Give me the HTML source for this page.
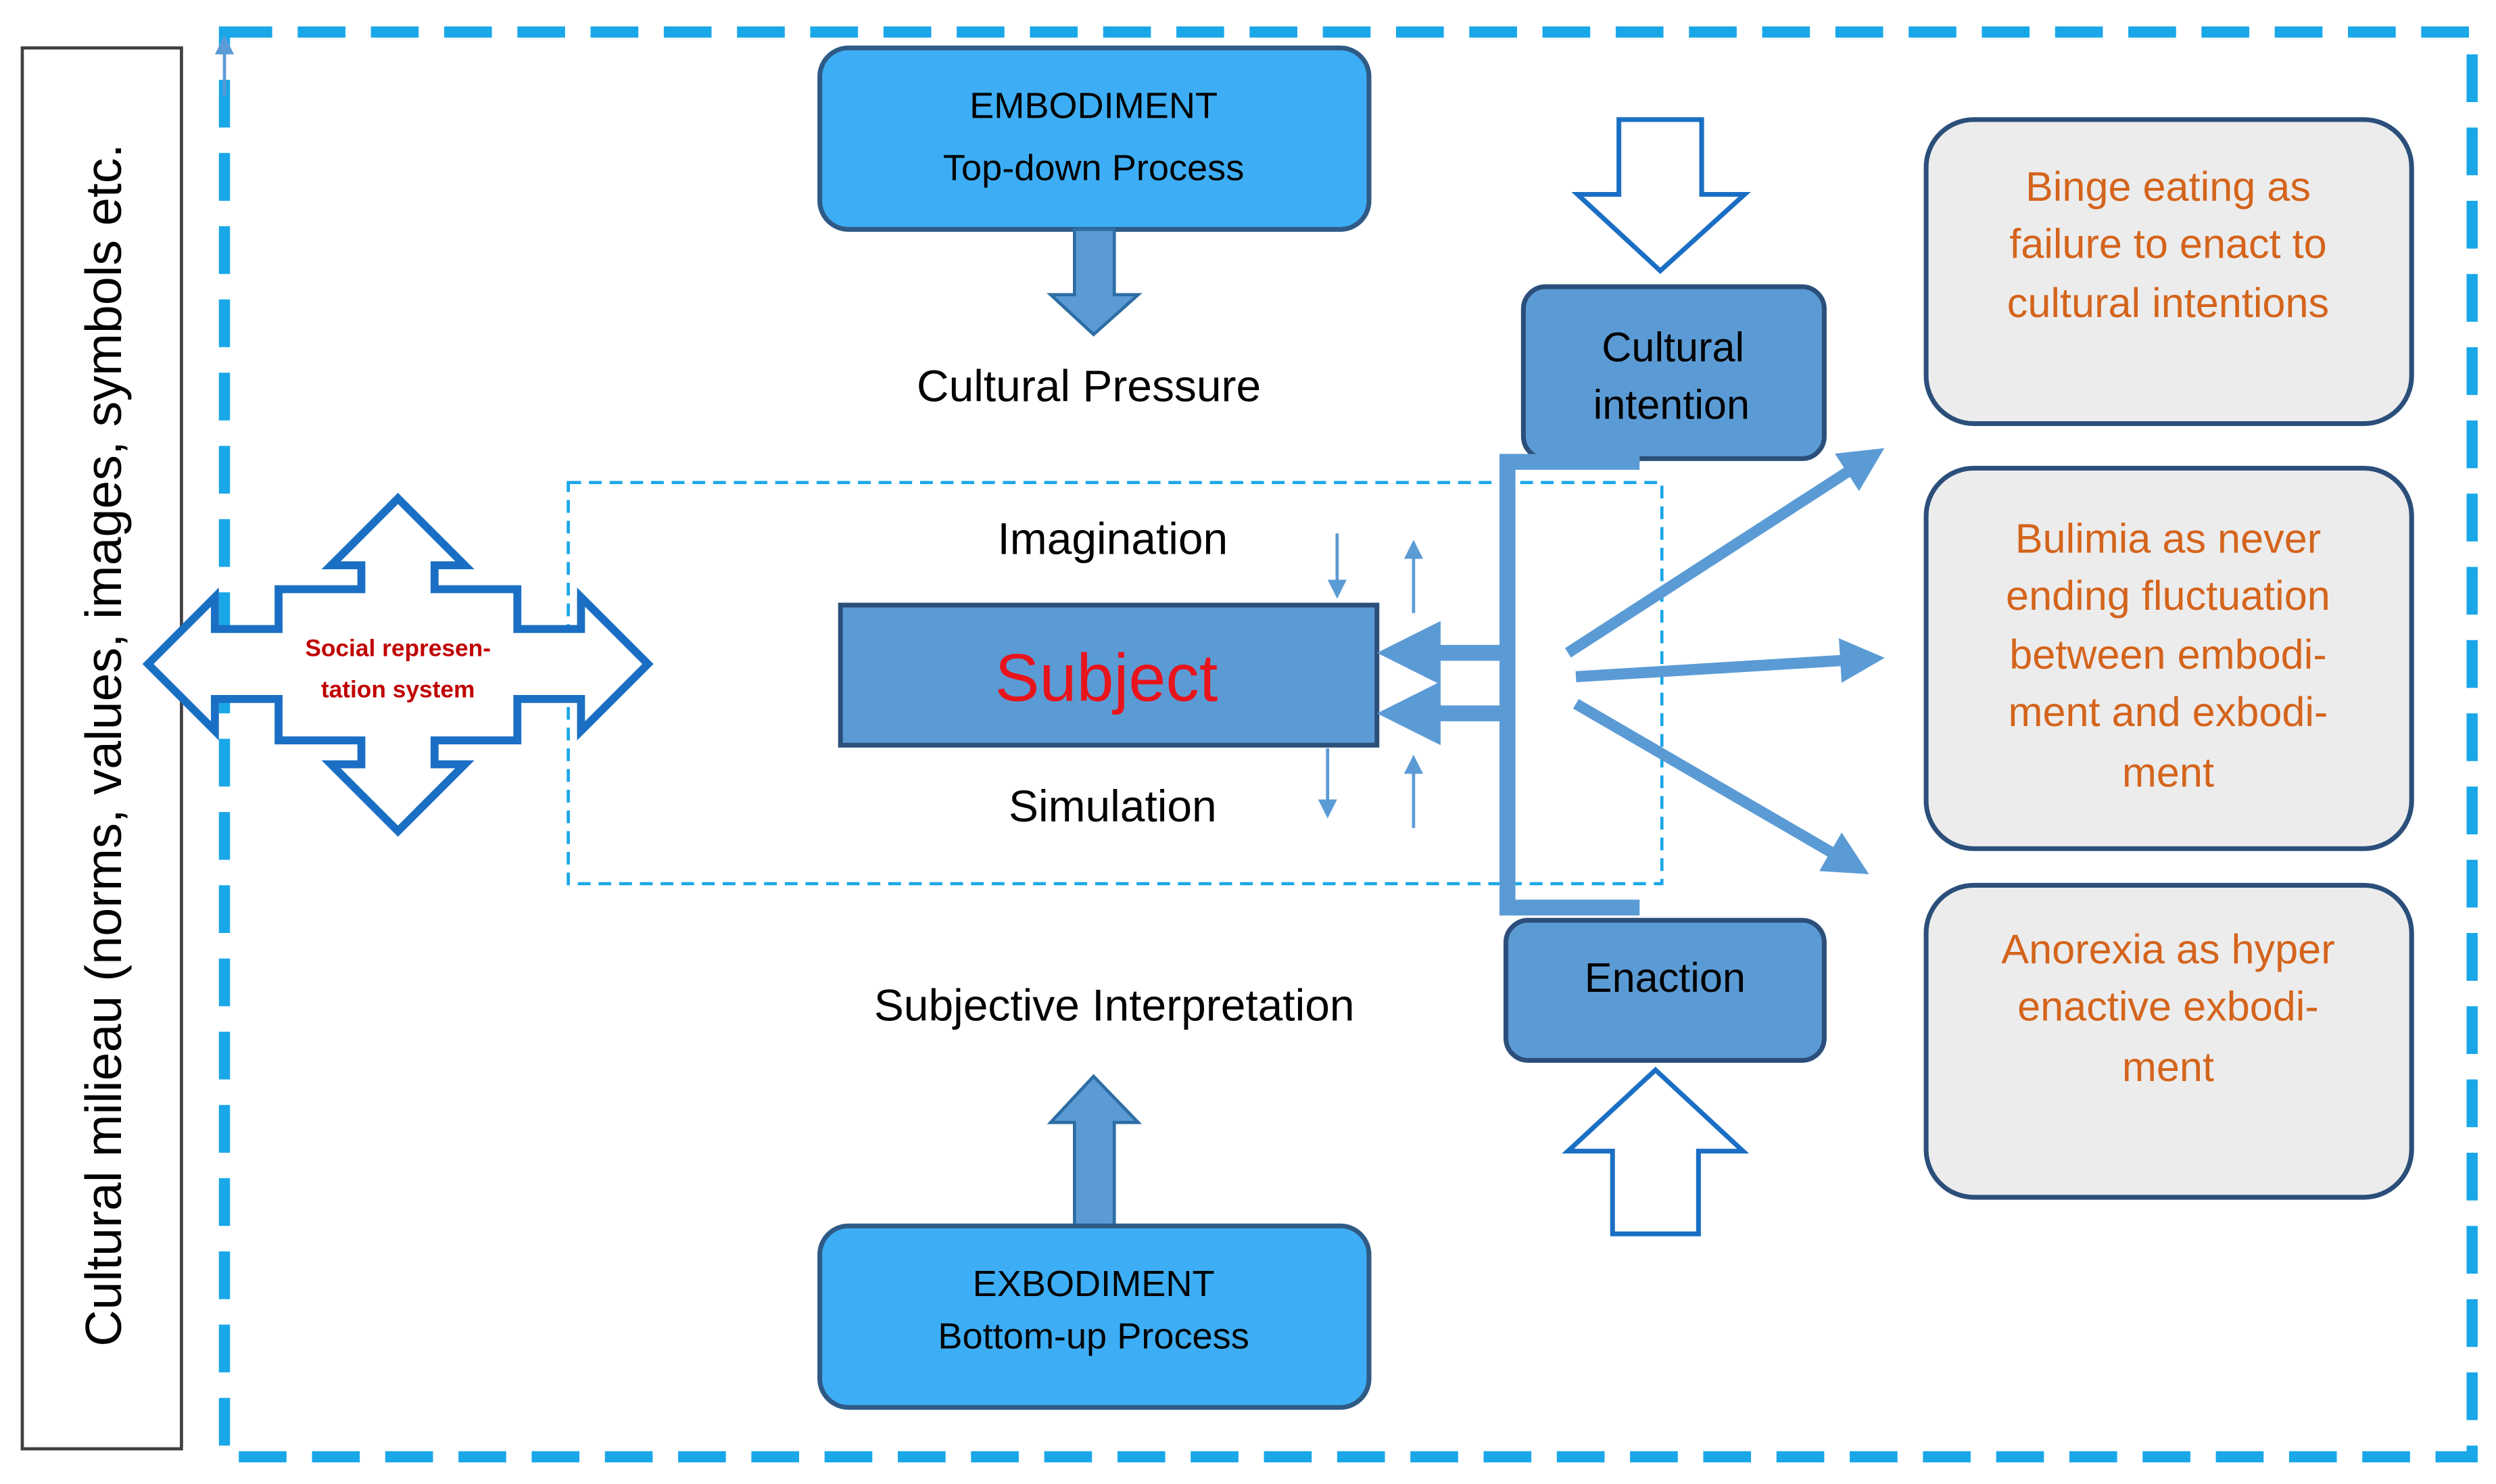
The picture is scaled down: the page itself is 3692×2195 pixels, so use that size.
<!DOCTYPE html>
<html><head><meta charset="utf-8"><style>
html,body{margin:0;padding:0;background:#fff;}
svg{display:block;}
text{font-family:"Liberation Sans",sans-serif;}
</style></head><body>
<svg width="3692" height="2195" viewBox="0 0 1568 932" xmlns="http://www.w3.org/2000/svg">
<defs>
<marker id="ah" markerWidth="4" markerHeight="4" refX="2" refY="2" orient="auto" markerUnits="strokeWidth"><path d="M0,0 L4,2 L0,4 Z" fill="#5b9bd5"/></marker>
<marker id="sa" markerWidth="6" markerHeight="6" refX="3" refY="3" orient="auto" markerUnits="strokeWidth"><path d="M0,0 L6,3 L0,6 Z" fill="#5b9bd5"/></marker>
</defs>
<rect width="1568" height="932" fill="#fff"/>
<rect x="14" y="30" width="100" height="880" fill="#fff" stroke="#404040" stroke-width="2"/>
<text transform="translate(76,468) rotate(-90)" text-anchor="middle" font-size="32" fill="#000">Cultural milieau (norms, values, images, symbols etc.</text>
<rect x="141" y="20" width="1412" height="895" fill="none" stroke="#1aa7e8" stroke-width="7" stroke-dasharray="30,16"/>
<line x1="141" y1="60" x2="141" y2="28" stroke="#5b9bd5" stroke-width="2" marker-end="url(#sa)"/>
<rect x="515" y="30" width="345" height="114" rx="18" fill="#3daef5" stroke="#2f5a86" stroke-width="3"/>
<text x="687" y="74" text-anchor="middle" font-size="23">EMBODIMENT</text>
<text x="687" y="113" text-anchor="middle" font-size="23">Top-down Process</text>
<path d="M675,144 L700,144 L700,185 L715,185 L687,210 L660,185 L675,185 Z" fill="#5b9bd5" stroke="#2e6da4" stroke-width="2"/>
<text x="684" y="252" text-anchor="middle" font-size="28">Cultural Pressure</text>
<rect x="357" y="303" width="687" height="252" fill="none" stroke="#1aa7e8" stroke-width="2" stroke-dasharray="8,5"/>
<text x="699" y="348" text-anchor="middle" font-size="28">Imagination</text>
<text x="699" y="516" text-anchor="middle" font-size="28">Simulation</text>
<rect x="528" y="380" width="337" height="88" fill="#5b9bd5" stroke="#2b4f7a" stroke-width="3"/>
<text x="695" y="440" text-anchor="middle" font-size="42" fill="#e8141c">Subject</text>
<line x1="840" y1="335" x2="840" y2="370" stroke="#5b9bd5" stroke-width="2" marker-end="url(#sa)"/>
<line x1="888" y1="385" x2="888" y2="345" stroke="#5b9bd5" stroke-width="2" marker-end="url(#sa)"/>
<line x1="834" y1="470" x2="834" y2="508" stroke="#5b9bd5" stroke-width="2" marker-end="url(#sa)"/>
<line x1="888" y1="520" x2="888" y2="480" stroke="#5b9bd5" stroke-width="2" marker-end="url(#sa)"/>
<path d="M250,313 L292,355 L273,355 L273,370 L325,370 L325,395 L365,395 L365,375 L407,417 L365,459 L365,439 L325,439 L325,465 L273,465 L273,480 L292,480 L250,522 L208,480 L227,480 L227,465 L175,465 L175,439 L135,439 L135,459 L93,417 L135,375 L135,395 L175,395 L175,370 L227,370 L227,355 L208,355 Z" fill="#fff" stroke="#1a6fc4" stroke-width="5" stroke-linejoin="miter"/>
<text x="250" y="412" text-anchor="middle" font-size="15" font-weight="600" fill="#c00000">Social represen-</text>
<text x="250" y="438" text-anchor="middle" font-size="15" font-weight="600" fill="#c00000">tation system</text>
<rect x="957" y="180" width="189" height="108" rx="14" fill="#5b9bd5" stroke="#2b4f7a" stroke-width="3"/>
<text x="1051" y="227" text-anchor="middle" font-size="26">Cultural</text>
<text x="1050" y="263" text-anchor="middle" font-size="26">intention</text>
<rect x="946" y="578" width="200" height="88" rx="14" fill="#5b9bd5" stroke="#2b4f7a" stroke-width="3"/>
<text x="1046" y="623" text-anchor="middle" font-size="26">Enaction</text>
<path d="M1017,75 L1069,75 L1069,122 L1096,122 L1043,170 L991,122 L1017,122 Z" fill="#fff" stroke="#1a6fc4" stroke-width="3"/>
<path d="M1040,672 L1095,723 L1067,723 L1067,775 L1013,775 L1013,723 L985,723 Z" fill="#fff" stroke="#1a6fc4" stroke-width="3"/>
<path d="M1030,290 L947,290 L947,570 L1030,570" fill="none" stroke="#5b9bd5" stroke-width="10"/>
<line x1="950" y1="410" x2="885" y2="410" stroke="#5b9bd5" stroke-width="10" marker-end="url(#ah)"/>
<line x1="950" y1="448" x2="885" y2="448" stroke="#5b9bd5" stroke-width="10" marker-end="url(#ah)"/>
<line x1="985" y1="410" x2="1172" y2="289" stroke="#5b9bd5" stroke-width="7" marker-end="url(#ah)"/>
<line x1="990" y1="425" x2="1170" y2="414" stroke="#5b9bd5" stroke-width="7" marker-end="url(#ah)"/>
<line x1="990" y1="442" x2="1162" y2="542" stroke="#5b9bd5" stroke-width="7" marker-end="url(#ah)"/>
<rect x="1210" y="75" width="305" height="191" rx="30" fill="#ececec" stroke="#2b4f7a" stroke-width="3"/>
<g font-size="26" fill="#d4641c" text-anchor="middle">
<text x="1362" y="126">Binge eating as</text>
<text x="1362" y="162">failure to enact to</text>
<text x="1362" y="199">cultural intentions</text>
</g>
<rect x="1210" y="294" width="305" height="239" rx="30" fill="#ececec" stroke="#2b4f7a" stroke-width="3"/>
<g font-size="26" fill="#d4641c" text-anchor="middle">
<text x="1362" y="347">Bulimia as never</text>
<text x="1362" y="383">ending fluctuation</text>
<text x="1362" y="420">between embodi-</text>
<text x="1362" y="456">ment and exbodi-</text>
<text x="1362" y="494">ment</text>
</g>
<rect x="1210" y="556" width="305" height="196" rx="30" fill="#ececec" stroke="#2b4f7a" stroke-width="3"/>
<g font-size="26" fill="#d4641c" text-anchor="middle">
<text x="1362" y="605">Anorexia as hyper</text>
<text x="1362" y="641">enactive exbodi-</text>
<text x="1362" y="679">ment</text>
</g>
<text x="700" y="641" text-anchor="middle" font-size="28">Subjective Interpretation</text>
<path d="M687,676 L715,705 L700,705 L700,770 L675,770 L675,705 L660,705 Z" fill="#5b9bd5" stroke="#2e6da4" stroke-width="2"/>
<rect x="515" y="770" width="345" height="114" rx="18" fill="#3daef5" stroke="#2f5a86" stroke-width="3"/>
<text x="687" y="814" text-anchor="middle" font-size="23">EXBODIMENT</text>
<text x="687" y="847" text-anchor="middle" font-size="23">Bottom-up Process</text>
</svg>
</body></html>
